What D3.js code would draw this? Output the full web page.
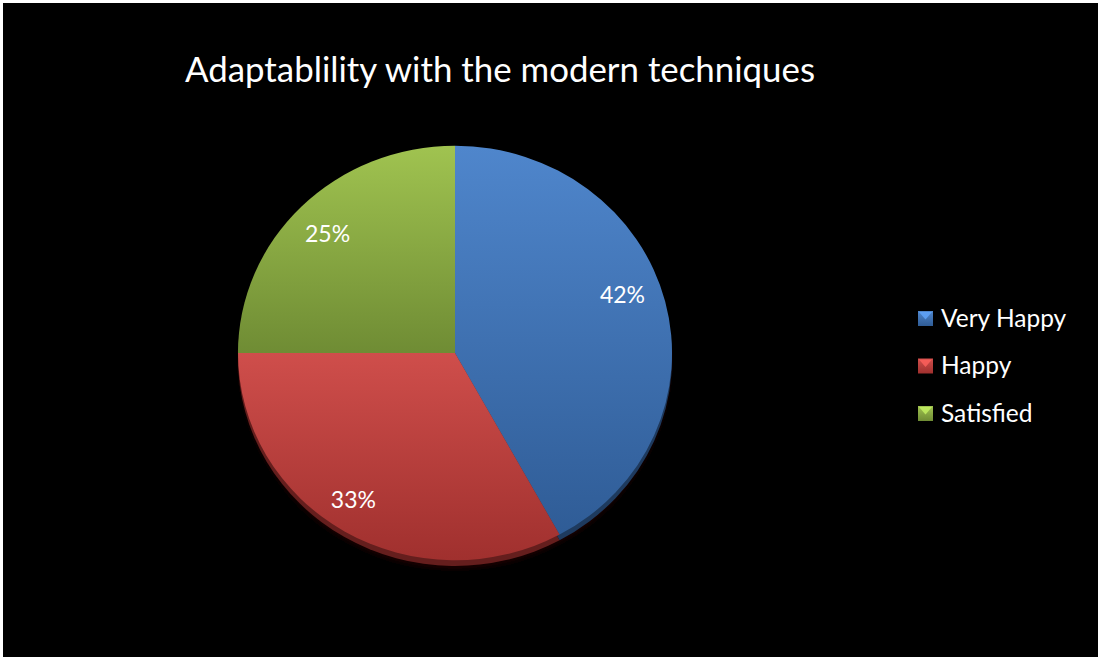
<!DOCTYPE html>
<html>
<head>
<meta charset="utf-8">
<title>Adaptablility with the modern techniques</title>
<style>
  body { margin: 0; background: #fff; }
  text { font-family: 'Lato', 'Noto Sans', sans-serif; fill: #fff; }
</style>
<script src="https://d3js.org/d3.v7.min.js"></script>
</head>
<body>
<div id="chart"></div>
<script>
// ******* Data *******
const categories = ["Very Happy", "Happy", "Satisfied"];
const values = [42, 33, 25];
const labels = ["42%", "33%", "25%"];
const colorsTop = ["#4f86cc", "#cf4e4b", "#a0c350"];
const colorsBottom = ["#2f5c96", "#a0302e", "#6f8c34"];

// ******* Constants *******
const width = 1099, height = 658;
const cx = 455, cy = 353, radius = 217, squash = 0.955;

const svg = d3.select("#chart").append("svg")
    .attr("width", width)
    .attr("height", height)
    .style("display", "block");

// white frame, black chart area
svg.append("rect").attr("width", width).attr("height", height).attr("fill", "#fff");
svg.append("rect").attr("x", 3).attr("y", 3)
    .attr("width", width - 4).attr("height", height - 4).attr("fill", "#000");

const defs = svg.append("defs");
categories.forEach((c, i) => {
  const g = defs.append("linearGradient").attr("id", "grad" + i)
      .attr("x1", 0).attr("y1", 0).attr("x2", 0).attr("y2", 1);
  g.append("stop").attr("offset", "0%").attr("stop-color", colorsTop[i]);
  g.append("stop").attr("offset", "100%").attr("stop-color", colorsBottom[i]);
});
defs.append("filter").attr("id", "blur")
    .append("feGaussianBlur").attr("stdDeviation", 3);

// ******* Title *******
svg.append("text")
    .attr("x", 500)
    .attr("y", 82)
    .attr("text-anchor", "middle")
    .style("font-size", "34px")
    .attr("textLength", 630)
    .attr("lengthAdjust", "spacingAndGlyphs")
    .text("Adaptablility with the modern techniques");

// ******* Pie *******
const pie = d3.pie().sort(null).value(d => d);
const arcs = pie(values);
const arc = d3.arc().innerRadius(0).outerRadius(radius);
const labelArc = d3.arc().innerRadius(176).outerRadius(176);

const g = svg.append("g")
    .attr("transform", `translate(${cx},${cy}) scale(1,${squash})`);

// depth / shadow below the pie
g.append("ellipse")
    .attr("cx", 0).attr("cy", 9)
    .attr("rx", radius - 2).attr("ry", radius)
    .attr("fill", "#1a0606")
    .attr("filter", "url(#blur)");
g.selectAll("path.depth")
    .data(arcs)
    .enter()
    .append("path")
    .attr("class", "depth")
    .attr("transform", "translate(0,6)")
    .attr("d", arc)
    .attr("fill", (d, i) => d3.color(colorsBottom[i]).darker(1.3));

g.selectAll("path.slice")
    .data(arcs)
    .enter()
    .append("path")
    .attr("class", "slice")
    .attr("d", arc)
    .attr("fill", (d, i) => `url(#grad${i})`);

// label nudges for the 3D perspective, in pixels
const labelShift = [[-3, -16], [-12, 2], [-3, 0]];
svg.selectAll("text.pct")
    .data(arcs)
    .enter()
    .append("text")
    .attr("class", "pct")
    .attr("x", (d, i) => cx + labelArc.centroid(d)[0] + labelShift[i][0])
    .attr("y", (d, i) => cy + labelArc.centroid(d)[1] * squash + labelShift[i][1])
    .attr("dy", "0.35em")
    .attr("text-anchor", "middle")
    .style("font-size", "23px")
    .text((d, i) => labels[i]);

// ******* Legend *******
const legend = svg.append("g").attr("transform", "translate(918,318)");
const rows = legend.selectAll("g")
    .data(categories)
    .enter()
    .append("g")
    .attr("transform", (d, i) => `translate(0,${i * 47.5})`);

rows.append("rect")
    .attr("x", 0).attr("y", -7)
    .attr("width", 15).attr("height", 15)
    .attr("fill", (d, i) => `url(#grad${i})`);
rows.append("path")
    .attr("d", "M1,-6 L14,-6 L7.5,1.5 Z")
    .attr("fill", (d, i) => d3.color(colorsTop[i]).brighter(0.6))
    .attr("opacity", 0.8);

rows.append("text")
    .attr("x", 23)
    .attr("y", 0)
    .attr("dy", "0.36em")
    .style("font-size", "24.5px")
    .text(d => d);
</script>
</body>
</html>
